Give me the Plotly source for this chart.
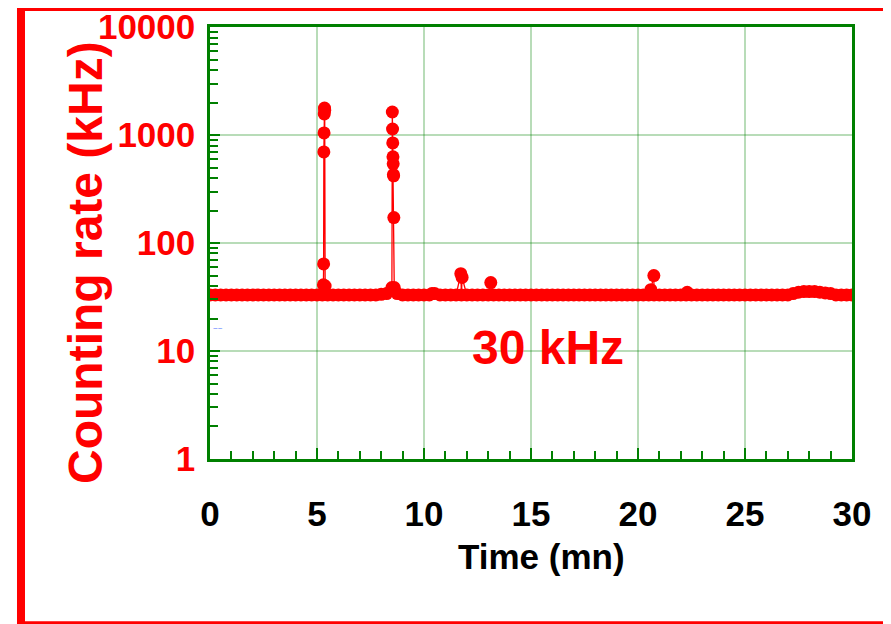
import plotly.graph_objects as go

# ---------------- data ----------------
# baseline acquisition (time in minutes, rate in kHz)
base_t = [0.0, 0.25, 0.5, 0.75, 1.0, 1.25, 1.5, 1.75, 2.0, 2.25, 2.5, 2.75,
          3.0, 3.25, 3.5, 3.75, 4.0, 4.25, 4.5, 4.75, 5.0, 5.25, 5.5, 5.75,
          6.0, 6.25, 6.5, 6.75, 7.0, 7.25, 7.5, 7.75, 8.0, 8.25, 8.75,
          9.0, 9.25, 9.5, 9.75, 10.0, 10.25, 10.5, 10.75, 11.0, 11.25, 11.5, 11.75,
          12.0, 12.25, 12.5, 12.75, 13.0, 13.25, 13.5, 13.75, 14.0, 14.25, 14.5, 14.75,
          15.0, 15.25, 15.5, 15.75, 16.0, 16.25, 16.5, 16.75, 17.0, 17.25, 17.5, 17.75,
          18.0, 18.25, 18.5, 18.75, 19.0, 19.25, 19.5, 19.75, 20.0, 20.25, 20.5, 20.75,
          21.0, 21.25, 21.5, 21.75, 22.0, 22.25, 22.5, 22.75, 23.0, 23.25, 23.5, 23.75,
          24.0, 24.25, 24.5, 24.75, 25.0, 25.25, 25.5, 25.75, 26.0, 26.25, 26.5, 26.75,
          27.0, 27.25, 27.5, 27.75, 28.0, 28.25, 28.5, 28.75, 29.0, 29.25, 29.5, 29.75, 30.0]
base_v = [33, 33, 33, 33, 33, 33, 33, 33, 33, 33, 33, 33,
          33, 33, 33, 33, 33, 33, 33, 33, 33, 33, 33, 33,
          33, 33, 33, 33, 33, 33, 33, 33, 33.5, 34, 34,
          33, 33, 33, 33, 33, 33, 34, 33, 33, 33, 33, 33,
          33, 33, 33, 33, 33, 33, 33, 33, 33, 33, 33, 33,
          33, 33, 33, 33, 33, 33, 33, 33, 33, 33, 33, 33,
          33, 33, 33, 33, 33, 33, 33, 33, 33, 33, 33, 33,
          33, 33, 33, 33, 33, 33, 33, 33, 33, 33, 33, 33,
          33, 33, 33, 33, 33, 33, 33, 33, 33, 33, 33, 33,
          33, 34, 35, 35.5, 35.5, 35.5, 35, 34.5, 34, 33, 33, 33, 33]

# bursts and small excursions
burst_t = [5.30, 5.31, 5.32, 5.33, 5.34, 5.35, 5.36, 5.38,
           8.50, 8.52, 8.53, 8.54, 8.55, 8.56, 8.57, 8.58, 8.59, 8.61,
           10.37, 11.72, 11.78, 13.12, 20.60, 20.74, 22.30]
burst_v = [41, 64, 698, 1046, 1567, 1778, 1700, 40,
           38.7, 1634, 1138, 845, 628, 541, 430, 419, 172, 38.7,
           34, 52, 48, 43, 37, 50, 35]

x_ticks = [0, 5, 10, 15, 20, 25, 30]
y_ticks = [1, 10, 100, 1000, 10000]
y_ticktext = ["1", "10", "100", "1000", "10000"]

# ---------------- figure ----------------
pts = sorted(zip(base_t + burst_t, base_v + burst_v))
t_all = [p[0] for p in pts]
v_all = [p[1] for p in pts]

RED = "#ff0000"
GREEN = "#008000"
GRID = "rgba(0,128,0,0.28)"

fig = go.Figure()
fig.add_trace(go.Scatter(
    x=t_all, y=v_all, mode="lines+markers",
    line=dict(color=RED, width=1.3),
    marker=dict(color=RED, size=13, line=dict(width=0)),
    showlegend=False, hoverinfo="skip"))

fig.update_xaxes(
    range=[0, 30], tickvals=x_ticks, ticktext=[str(v) for v in x_ticks],
    showline=True, linecolor=GREEN, linewidth=2.5, mirror=True,
    ticks="inside", ticklen=11, tickwidth=2, tickcolor=GREEN,
    minor=dict(dtick=1, ticks="inside", ticklen=8, tickwidth=1.5, tickcolor=GREEN, showgrid=False),
    showgrid=True, gridcolor=GRID, gridwidth=1.5, zeroline=False,
    ticklabelstandoff=22, ticklabeloverflow="allow", automargin=False,
    tickfont=dict(family="Liberation Sans", size=35, color="black", weight="bold"))

fig.update_yaxes(
    type="log", range=[0, 4.0005], tickvals=y_ticks, ticktext=y_ticktext,
    showline=True, linecolor=GREEN, linewidth=2.5, mirror=True,
    ticks="inside", ticklen=10, tickwidth=2, tickcolor=GREEN,
    minor=dict(dtick="D1", ticks="inside", ticklen=8, tickwidth=1.5, tickcolor=GREEN, showgrid=False),
    showgrid=True, gridcolor=GRID, gridwidth=1.5, zeroline=False,
    ticklabelstandoff=5, ticklabeloverflow="allow", automargin=False,
    tickfont=dict(family="Liberation Sans", size=35, color=RED, weight="bold"))

fig.update_layout(
    width=891, height=624,
    margin=dict(l=202, r=47, t=19, b=173),
    plot_bgcolor="white", paper_bgcolor="white",
    shapes=[dict(type="rect", xref="paper", yref="paper",
                 x0=-0.2944, x1=1.08, y0=-0.385, y1=1.0463,
                 line=dict(color=RED, width=8), fillcolor="rgba(0,0,0,0)", layer="above")],
    annotations=[
        dict(text="Counting rate (kHz)", xref="paper", yref="paper",
             x=-0.193, y=0.454, xanchor="center", yanchor="middle",
             textangle=-90, showarrow=False,
             font=dict(family="Liberation Sans", size=48, color=RED, weight="bold")),
        dict(text="Time (mn)", xref="paper", yref="paper",
             x=0.517, y=-0.225, xanchor="center", yanchor="middle", showarrow=False,
             font=dict(family="Liberation Sans", size=35, color="black", weight="bold")),
        dict(text="30 kHz", xref="paper", yref="paper",
             x=0.5265, y=0.257, xanchor="center", yanchor="middle", showarrow=False,
             font=dict(family="Liberation Sans", size=48, color=RED, weight="bold")),
        dict(text="~~", xref="paper", yref="paper",
             x=0.012, y=0.301, xanchor="center", yanchor="middle", showarrow=False,
             font=dict(family="Liberation Sans", size=8, color="#4a6cff")),
    ],
)

fig.write_html("out.html")
